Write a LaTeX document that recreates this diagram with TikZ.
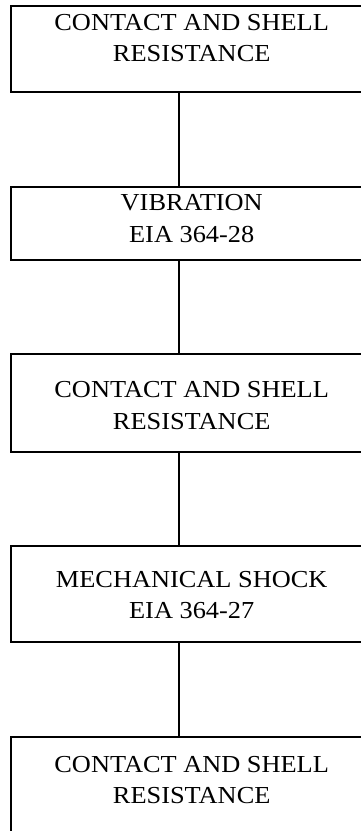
\documentclass[tikz,border=0pt]{standalone}
\usepackage{fontspec}
\usepackage{graphicx}
\setmainfont{Liberation Serif}
\newcommand{\wline}[1]{\scalebox{1.08}[1]{#1}}
\begin{document}
\begin{tikzpicture}[x=1pt,y=-1pt,
  box/.style={draw,line width=1.6pt,minimum width=362pt,inner sep=0pt,anchor=center},
  lbl/.style={anchor=base,inner sep=0pt,font=\fontsize{24.4}{24.4}\selectfont},
  conn/.style={line width=1.6pt}]
\useasboundingbox (0,0) rectangle (361,831);
\coordinate (cx) at (179,0);
\node[box,minimum height=86pt] (b1) at (192,49) {};
\node[box,minimum height=73pt] (b2) at (192,223.5) {};
\node[box,minimum height=98pt] (b3) at (192,403) {};
\node[box,minimum height=96pt] (b4) at (192,594) {};
\node[box,minimum height=113pt] (b5) at (192,793.5) {};
\node[lbl] (t1a) at (191.7,30) {\wline{CONTACT AND SHELL}};
\node[lbl] (t1b) at (191.7,61) {\wline{RESISTANCE}};
\node[lbl] (t2a) at (191.7,210) {\wline{VIBRATION}};
\node[lbl] (t2b) at (191.7,242) {\wline{EIA 364-28}};
\node[lbl] (t3a) at (191.7,397) {\wline{CONTACT AND SHELL}};
\node[lbl] (t3b) at (191.7,429) {\wline{RESISTANCE}};
\node[lbl] (t4a) at (191.7,587) {\wline{MECHANICAL SHOCK}};
\node[lbl] (t4b) at (191.7,618) {\wline{EIA 364-27}};
\node[lbl] (t5a) at (191.7,772) {\wline{CONTACT AND SHELL}};
\node[lbl] (t5b) at (191.7,803) {\wline{RESISTANCE}};
\draw[conn] (b1.south -| cx) -- (b2.north -| cx);
\draw[conn] (b2.south -| cx) -- (b3.north -| cx);
\draw[conn] (b3.south -| cx) -- (b4.north -| cx);
\draw[conn] (b4.south -| cx) -- (b5.north -| cx);
\end{tikzpicture}
\end{document}
